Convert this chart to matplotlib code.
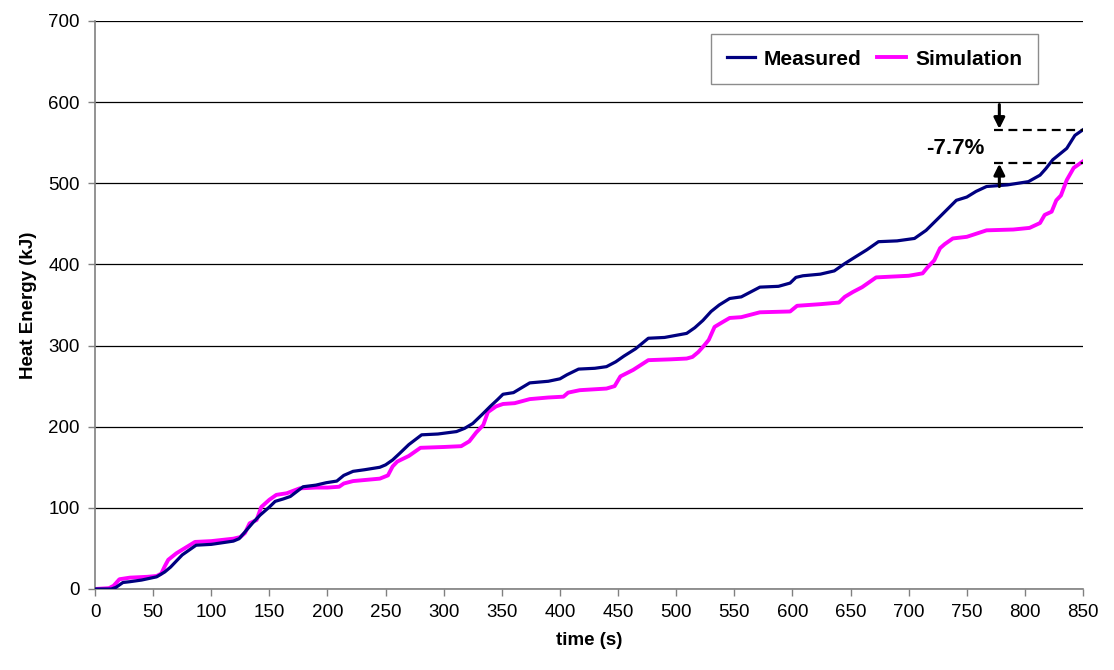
import matplotlib
matplotlib.use("Agg")
import matplotlib.pyplot as plt

plt.rcParams['font.family'] = ['Liberation Sans', 'DejaVu Sans']

meas_t = [0, 14, 18, 24, 30, 40, 53, 60, 65, 75, 87, 100, 119, 124, 130, 136, 142, 150, 155, 162, 168, 179, 190, 199, 208, 214, 222, 232, 245, 250, 256, 262, 270, 281, 295, 311, 318, 325, 333, 340, 346, 351, 360, 367, 374, 390, 400, 406, 416, 430, 440, 448, 455, 465, 476, 490, 509, 516, 523, 530, 537, 546, 556, 564, 572, 588, 598, 603, 609, 624, 636, 645, 655, 664, 674, 690, 705, 715, 727, 734, 741, 750, 758, 767, 785, 803, 813, 818, 824, 836, 843, 850]
meas_e = [0, 0, 2, 8, 9, 11, 15, 21, 27, 42, 54, 55, 59, 62, 72, 82, 91, 101, 108, 111, 114, 126, 128, 131, 133, 140, 145, 147, 150, 153, 159, 167, 178, 190, 191, 194, 198, 204, 215, 225, 233, 240, 242, 248, 254, 256, 259, 264, 271, 272, 274, 280, 287, 296, 309, 310, 315, 322, 331, 342, 350, 358, 360, 366, 372, 373, 377, 384, 386, 388, 392, 401, 410, 418, 428, 429, 432, 442, 459, 469, 479, 483, 490, 496, 498, 502, 510, 518, 529, 543, 559, 566]

sim_t = [0, 12, 16, 21, 30, 45, 53, 57, 60, 63, 70, 78, 86, 100, 119, 125, 129, 133, 139, 143, 150, 156, 165, 176, 190, 200, 210, 214, 222, 245, 252, 256, 260, 270, 280, 300, 315, 322, 328, 334, 338, 345, 351, 361, 374, 390, 403, 407, 417, 440, 447, 452, 463, 476, 495, 509, 514, 519, 524, 528, 533, 540, 546, 556, 572, 598, 604, 624, 640, 645, 652, 660, 672, 700, 712, 716, 722, 727, 731, 738, 750, 767, 790, 804, 813, 817, 823, 827, 831, 836, 842, 850]
sim_e = [0, 1, 4, 12, 14, 15, 16, 19, 28, 36, 44, 51, 58, 59, 62, 64, 69, 81, 85, 101, 110, 116, 118, 124, 125, 125, 126, 130, 133, 136, 140, 151, 157, 164, 174, 175, 176, 182, 193, 202, 218, 225, 228, 229, 234, 236, 237, 242, 245, 247, 250, 262, 270, 282, 283, 284, 286, 292, 300, 307, 323, 329, 334, 335, 341, 342, 349, 351, 353, 360, 366, 372, 384, 386, 389, 396, 405, 420, 425, 432, 434, 442, 443, 445, 451, 461, 465, 479, 485, 504, 519, 527]

x_ticks = list(range(0, 851, 50))
y_ticks = list(range(0, 701, 100))
meas_end = 566
sim_end = 525

fig = plt.figure(figsize=(11.14, 6.70), dpi=100)
ax = fig.add_axes([0.0853, 0.1209, 0.8869, 0.8478])

ax.plot(meas_t, meas_e, color='#000080', lw=2.3, label='Measured', zorder=3)
ax.plot(sim_t, sim_e, color='#FF00FF', lw=2.8, label='Simulation', zorder=2)

ax.set_xlim(0, 850)
ax.set_ylim(0, 700)
ax.set_xticks(x_ticks)
ax.set_yticks(y_ticks)
ax.tick_params(axis='both', direction='out', length=5, width=1, color='#808080', labelsize=13.5, pad=6)
ax.yaxis.grid(True, color='black', lw=0.9)
ax.set_axisbelow(True)
for s in ['top', 'right']:
    ax.spines[s].set_visible(False)
for s in ['left', 'bottom']:
    ax.spines[s].set_color('#808080')
    ax.spines[s].set_linewidth(1.2)

ax.set_xlabel('time (s)', fontsize=13.5, fontweight='bold', labelpad=8)
ax.set_ylabel('Heat Energy (kJ)', fontsize=13.5, fontweight='bold', labelpad=8)

# annotation
ax.plot([773, 850], [meas_end, meas_end], color='black', ls=(0, (4, 2.5)), lw=1.6, zorder=4)
ax.plot([773, 850], [sim_end, sim_end], color='black', ls=(0, (4, 2.5)), lw=1.6, zorder=4)
ax.annotate('', xy=(778, meas_end + 1), xytext=(778, 597),
            arrowprops=dict(arrowstyle='-|>', color='black', lw=2.2, mutation_scale=16,
                            shrinkA=0, shrinkB=0))
ax.annotate('', xy=(778, sim_end - 1), xytext=(778, 496),
            arrowprops=dict(arrowstyle='-|>', color='black', lw=2.2, mutation_scale=16,
                            shrinkA=0, shrinkB=0))
ax.text(740, 543, '-7.7%', fontsize=16, fontweight='bold', ha='center', va='center')

leg = ax.legend(loc='upper right', bbox_to_anchor=(0.954, 0.977), borderaxespad=0, ncol=2,
                frameon=True, fancybox=False, edgecolor='#707070',
                prop={'weight': 'bold', 'size': 15},
                handlelength=1.35, columnspacing=0.75, handletextpad=0.45, borderpad=0.75)
leg.get_frame().set_linewidth(1.0)

fig.savefig('out.png', dpi=100, facecolor='white')
